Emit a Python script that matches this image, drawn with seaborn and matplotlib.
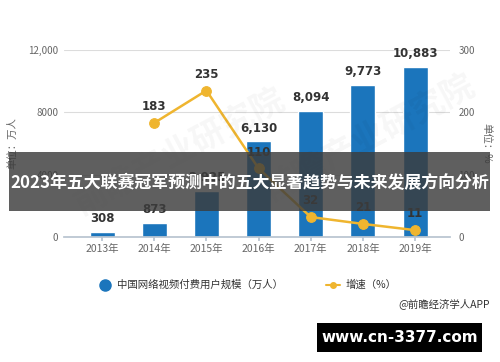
import matplotlib
matplotlib.use("Agg")
import matplotlib.pyplot as plt
import seaborn as sns
import pandas as pd
from matplotlib.patches import Rectangle
from matplotlib.lines import Line2D

# data
years = ["2013年", "2014年", "2015年", "2016年", "2017年", "2018年", "2019年"]
users = [308, 873, 2925, 6130, 8094, 9773, 10883]
user_labels = ["308", "873", "2,925", "6,130", "8,094", "9,773", "10,883"]
growth_years = ["2014年", "2015年", "2016年", "2017年", "2018年", "2019年"]
growth = [183, 235, 110, 32, 21, 11]

left_ticks = [0, 4000, 8000, 12000]
left_ticklabels = ["0", "4000", "8000", "12,000"]
right_ticks = [0, 100, 200, 300]

title = "2023年五大联赛冠军预测中的五大显著趋势与未来发展方向分析"

sns.set_theme(style="white")
plt.rcParams['font.family'] = ['Noto Sans CJK SC', 'DejaVu Sans']

BLUE = "#1b75bc"
GOLD = "#efb52f"
TXT = "#333333"
TICK = "#666666"

fig = plt.figure(figsize=(5, 3.62), dpi=100)
ax = fig.add_axes([64 / 500, 1 - 237 / 362, (450 - 64) / 500, (237 - 50) / 362])

df = pd.DataFrame({"year": years, "users": users})
sns.barplot(data=df, x="year", y="users", color=BLUE, width=0.48, ax=ax,
            saturation=1, zorder=2)
ax.set_xlim(-0.73, 6.67)
ax.set_ylim(0, 12000)
ax.set_yticks(left_ticks)
ax.set_yticklabels(left_ticklabels)
ax.yaxis.grid(True, color="#dcdcdc", linewidth=0.8, zorder=0)
ax.set_axisbelow(True)
for s in ["top", "right", "left"]:
    ax.spines[s].set_visible(False)
ax.spines["bottom"].set_color("#b8c4d0")
ax.tick_params(axis="y", length=0, labelsize=7, labelcolor=TICK, pad=4)
ax.tick_params(axis="x", length=3, color="#b8c4d0", labelsize=7.5, labelcolor=TICK, pad=2,
               bottom=True)
ax.set_xlabel("")
ax.set_ylabel("单位：万人", fontsize=7.5, color=TICK, labelpad=8)

for i, (v, lab) in enumerate(zip(users, user_labels)):
    ax.annotate(lab, (i, v), xytext=(0, 5), textcoords="offset points",
                ha="center", va="bottom", fontsize=8.5, fontweight="bold",
                color=TXT, family=["DejaVu Sans"])

ax2 = ax.twinx()
gx = [years.index(y) for y in growth_years]
sns.lineplot(x=gx, y=growth, ax=ax2, color=GOLD, linewidth=1.8, marker="o",
             markersize=7, markeredgecolor=GOLD, zorder=3)
ax2.set_ylim(0, 300)
ax2.set_yticks(right_ticks)
for s in ["top", "right", "left", "bottom"]:
    ax2.spines[s].set_visible(False)
ax2.tick_params(axis="y", length=0, labelsize=7, labelcolor=TICK, pad=6)
ax2.set_ylabel("单位：%", fontsize=7.5, color=TICK, rotation=270, labelpad=12)
for x, v in zip(gx, growth):
    ax2.annotate(str(v), (x, v), xytext=(0, 7), textcoords="offset points",
                 ha="center", va="bottom", fontsize=8.5, fontweight="bold",
                 color=TXT, family=["DejaVu Sans"])

# faint watermark
fig.text(0.36, 0.58, "前瞻产业研究院", fontsize=24, color="#000000", alpha=0.035,
         rotation=28, ha="center", va="center", fontweight="bold")
fig.text(0.74, 0.62, "前瞻产业研究院", fontsize=24, color="#000000", alpha=0.035,
         rotation=28, ha="center", va="center", fontweight="bold")

# legend
fig.add_artist(Line2D([105 / 500], [1 - 285 / 362], marker="o", markersize=8,
                      color=BLUE, transform=fig.transFigure))
fig.text(117 / 500, 1 - 285 / 362, "中国网络视频付费用户规模（万人）", fontsize=7.5,
         color=TXT, va="center", ha="left")
fig.add_artist(Line2D([326 / 500, 340 / 500], [1 - 285 / 362] * 2, color=GOLD,
                      linewidth=1.5, transform=fig.transFigure))
fig.add_artist(Line2D([333 / 500], [1 - 285 / 362], marker="o", markersize=4,
                      color=GOLD, transform=fig.transFigure))
fig.text(346 / 500, 1 - 285 / 362, "增速（%）", fontsize=7.5, color=TXT,
         va="center", ha="left")
fig.text(490 / 500, 1 - 304 / 362, "@前瞻经济学人APP", fontsize=7.5, color=TXT,
         va="center", ha="right")

# banner
fig.add_artist(Rectangle((9 / 500, 1 - 211 / 362), 481 / 500, 59 / 362,
                         transform=fig.transFigure, facecolor="#3c3c3c",
                         alpha=0.82, edgecolor="none", zorder=10))
fig.text(250 / 500, 1 - 183 / 362, title, fontsize=12.2, fontweight="bold",
         color="white", ha="center", va="center", zorder=11)

# site box
fig.add_artist(Rectangle((317 / 500, 1 - 352 / 362), 165 / 500, 29 / 362,
                         transform=fig.transFigure, facecolor="black",
                         edgecolor="none", zorder=10))
fig.text(400 / 500, 1 - 337 / 362, "www.cn-3377.com", fontsize=11, fontweight="bold",
         color="white", ha="center", va="center", family=["DejaVu Sans"], zorder=11)

fig.savefig("out.png", dpi=100)
